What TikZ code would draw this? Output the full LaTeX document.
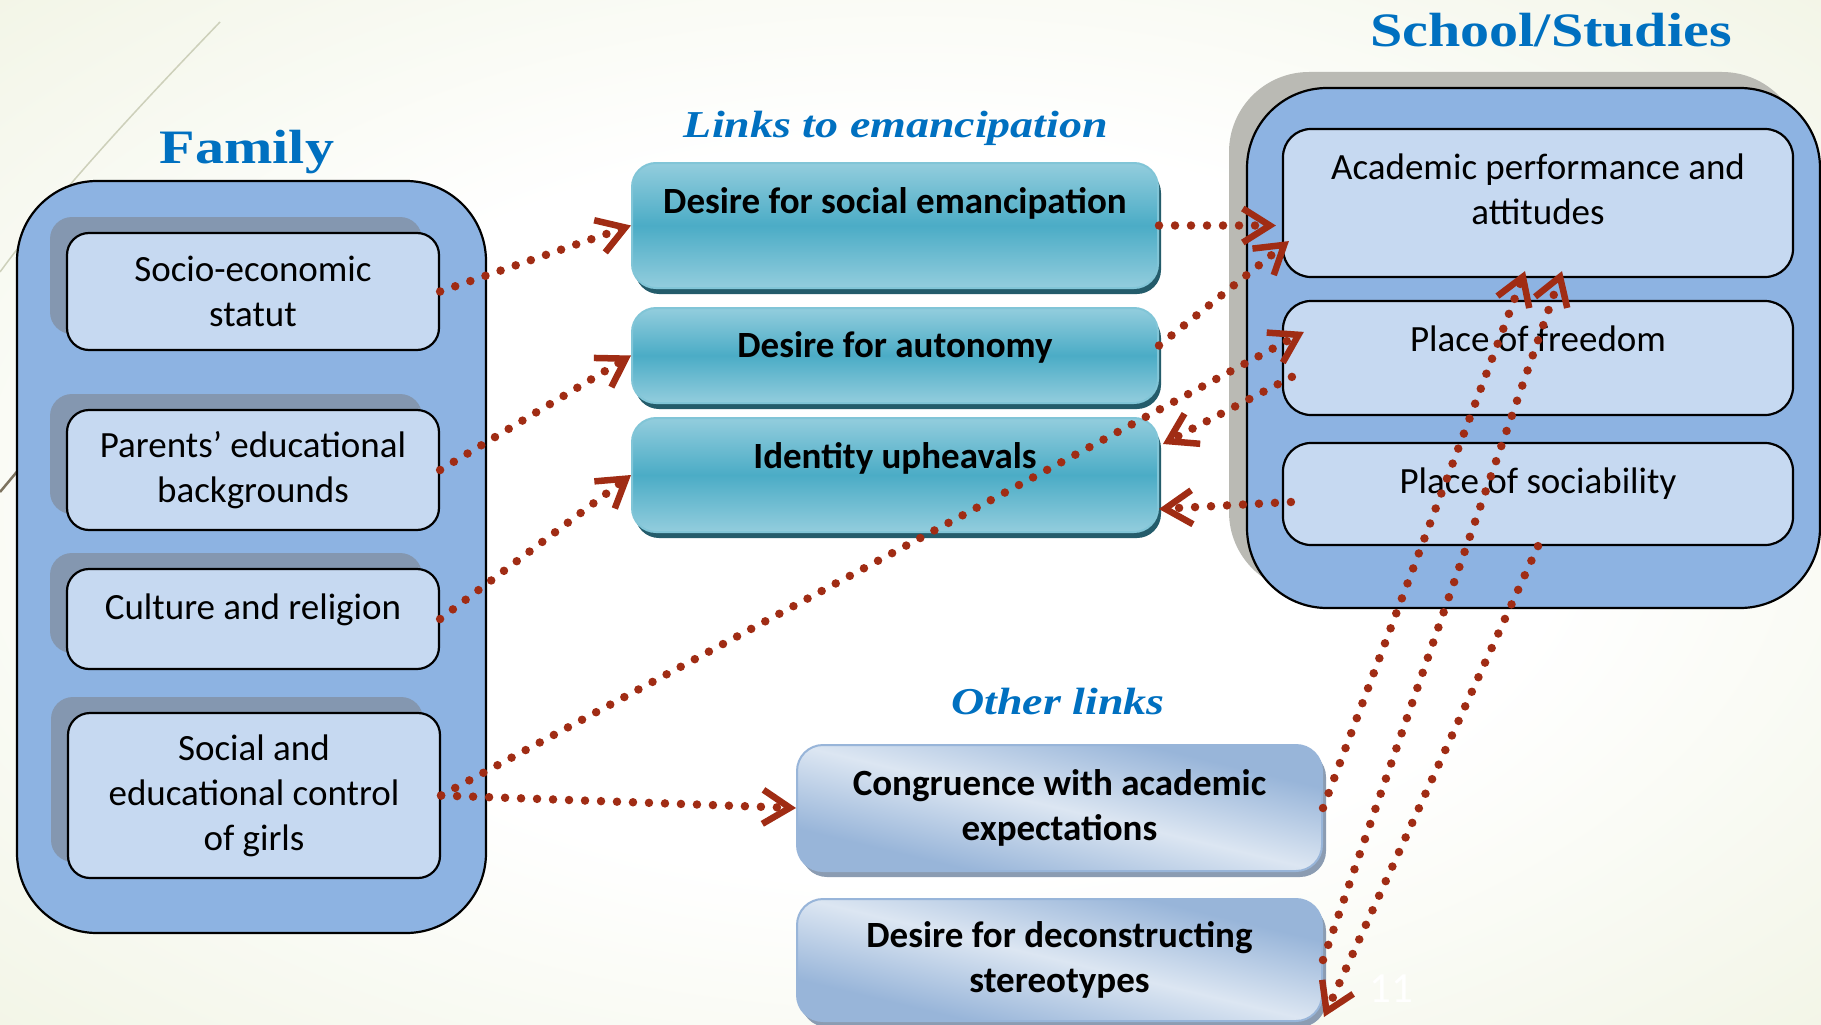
\documentclass[tikz,border=0pt]{standalone}
\usepackage{fontspec}
\setmainfont{Carlito}
\newfontfamily\titlefont[FakeStretch=1.21]{Liberation Serif}
\usetikzlibrary{arrows.meta,shadows}

\definecolor{bggreen}{RGB}{232,237,211}
\definecolor{titleblue}{HTML}{0070C0}
\definecolor{boxblue}{HTML}{8DB3E2}
\definecolor{cellblue}{HTML}{C6D9F1}
\definecolor{cellshadow}{HTML}{8497B0}
\definecolor{schoolshadow}{RGB}{186,186,180}
\definecolor{teallight}{HTML}{93CDDD}
\definecolor{tealmid}{HTML}{4BACC6}
\definecolor{tealdark}{HTML}{245C6B}
\definecolor{otherlight}{HTML}{DCE6F2}
\definecolor{otherdark}{HTML}{98B5D9}
\definecolor{othershadow}{HTML}{8B9CB2}
\definecolor{linkred}{HTML}{A02C14}
\definecolor{decoline}{RGB}{205,208,186}
\definecolor{decodark}{RGB}{125,115,95}

\pgfdeclareradialshading{slidebg}{\pgfpoint{0bp}{0bp}}{color(0bp)=(white); color(18bp)=(white); color(50bp)=(bggreen); color(60bp)=(bggreen)}
\pgfdeclareverticalshading{othershade}{100bp}{color(0bp)=(otherdark); color(30bp)=(otherdark); color(50bp)=(otherlight); color(70bp)=(otherdark); color(100bp)=(otherdark)}

\tikzset{
  bigbox/.style={draw=black, line width=2.2pt, fill=boxblue, rounded corners=80pt},
  famcell/.style={draw=black, line width=2.2pt, fill=cellblue, rounded corners=22pt,
    minimum width=372pt, align=center, font=\fontsize{37}{45}\selectfont,
    general shadow={fill=cellshadow, shadow xshift=-17pt, shadow yshift=16pt}},
  schoolcell/.style={draw=black, line width=2.2pt, fill=cellblue, rounded corners=28pt,
    minimum width=510pt},
  tealbox/.style={draw=tealmid!70!white, line width=2pt, rounded corners=24pt,
    top color=teallight, bottom color=teallight, middle color=tealmid, minimum width=526pt,
    general shadow={fill=tealdark, shadow xshift=3pt, shadow yshift=-6pt}},
  otherbox/.style={draw=otherdark, line width=2pt, rounded corners=26pt,
    shading=othershade, shading angle=-13.5,
    minimum width=525pt, align=center, font=\bfseries\fontsize{37}{45}\selectfont,
    general shadow={fill=othershadow, shadow xshift=4pt, shadow yshift=-6pt}},
  celltext/.style={anchor=base, align=center, font=\fontsize{37}{45}\selectfont},
  boldtext/.style={anchor=base, font=\bfseries\fontsize{37}{45}\selectfont},
  heading/.style={anchor=base, text=titleblue, font=\titlefont\bfseries\fontsize{48}{56}\selectfont},
  subheading/.style={anchor=base, text=titleblue, font=\titlefont\bfseries\itshape\fontsize{38}{44}\selectfont},
  link/.style={draw=linkred, line width=8.5pt, line cap=round, dash pattern=on 0pt off 16pt,
    -{Straight Barb[length=27pt, width=34pt, line width=6.5pt]}},
}

\begin{document}
\begin{tikzpicture}[x=1pt, y=-1pt, every node/.style={inner sep=0pt}]
	\useasboundingbox (0,0) rectangle (1821,1025);
	\clip (0,0) rectangle (1821,1025);
	\shade[shading=slidebg] (0,0) rectangle (1821,1025);
	\draw[decoline, line width=1.5pt] (220,22) .. controls (150,95) and (60,190) .. (0,272);
	\draw[decodark, line width=2.5pt] (0,492) -- (60,420);

	% family
	\node[bigbox, minimum width=469pt, minimum height=752pt] (family) at (251.5,557) {};
	\node[heading] (family-t) at (247,163) {Family};
	\node[famcell, minimum height=117pt] (socio) at (253,291.5) {Socio-economic\\statut};
	\node[famcell, minimum height=120pt] (parents) at (253,470) {Parents’ educational\\backgrounds};
	\node[famcell, minimum height=100pt] (culture) at (253,619) {};
	\node[celltext] (culture-t) at (253,619) {Culture and religion};
	\node[famcell, minimum height=165pt] (social) at (254,795.5) {Social and\\educational control\\of girls};

	% links to emancipation
	\node[subheading] (links-t) at (896,137) {Links to emancipation};
	\node[tealbox, minimum height=125pt] (emanc) at (895,225.5) {};
	\node[boldtext] (emanc-t) at (895,213) {Desire for social emancipation};
	\node[tealbox, minimum height=95pt] (autonomy) at (895,355.5) {};
	\node[boldtext] (autonomy-t) at (895,357) {Desire for autonomy};
	\node[tealbox, minimum height=114pt] (identity) at (895,475) {};
	\node[boldtext] (identity-t) at (895,468) {Identity upheavals};

	% school
	\node[bigbox, minimum width=573pt, minimum height=520pt,
		general shadow={fill=schoolshadow, shadow xshift=-18pt, shadow yshift=16pt}] (school) at (1533.5,348) {};
	\node[heading] (school-t) at (1551,47) {School/Studies};
	\node[schoolcell, minimum height=148pt] (academic) at (1538,203) {};
	\node[celltext, anchor=center] (academic-t) at (1538,189.5) {Academic performance and\\attitudes};
	\node[schoolcell, minimum height=114pt] (freedom) at (1538,358) {};
	\node[celltext] (freedom-t) at (1538,351) {Place of freedom};
	\node[schoolcell, minimum height=102pt] (sociab) at (1538,494) {};
	\node[celltext] (sociab-t) at (1538,493) {Place of sociability};

	% other links
	\node[subheading] (other-t) at (1058,714) {Other links};
	\node[otherbox, minimum height=126pt] (congr) at (1059.5,808) {Congruence with academic\\expectations};
	\node[otherbox, minimum height=122pt] (decon) at (1059.5,960) {Desire for deconstructing\\stereotypes};
	\node[anchor=base, text=white, font=\fontsize{43}{43}\selectfont] (pagenum) at (1391,1002) {11};

	% connectors
	\draw[link] (socio.east) -- (emanc.west);
	\draw[link] (parents.east) -- (autonomy.west);
	\draw[link] (culture.east) -- (identity.west);
	\draw[link] (social.east) -- ([shift={(22,32)}]freedom.north west);
	\draw[link] (social.east) -- (congr.west);
	\draw[link] (emanc.east) -- ([xshift=-6pt]emanc.east -| academic.west);
	\draw[link] ([shift={(0,-10)}]autonomy.east) -- ([shift={(7,-37)}]academic.south west);
	\draw[link] ([shift={(10,77)}]freedom.north west) -- ([shift={(4,27)}]identity.north east);
	\draw[link] ([shift={(9,8)}]sociab.west) -- ([shift={(0,34)}]identity.east);
	\draw[link] (congr.east) -- ([shift={(-13,-7)}]academic.south);
	\draw[link] (decon.east) -- ([shift={(24,-7)}]academic.south);
	\draw[link] (sociab.south) -- ([shift={(1,-5)}]decon.south east);
\end{tikzpicture}
\end{document}
